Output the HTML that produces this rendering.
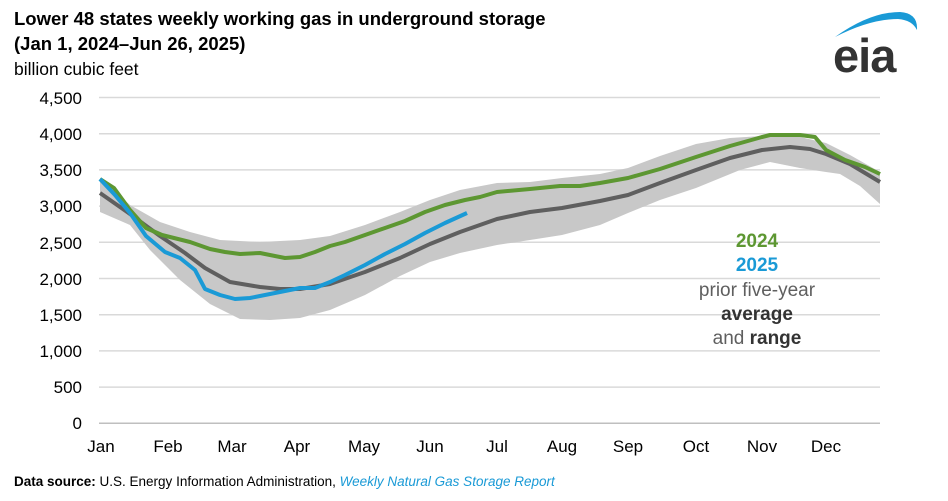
<!DOCTYPE html>
<html><head><meta charset="utf-8"><style>
body{margin:0;background:#fff;}
svg{display:block;font-family:"Liberation Sans",Arial,sans-serif;}
</style></head><body>
<svg width="948" height="501" viewBox="0 0 948 501" xmlns="http://www.w3.org/2000/svg">
<text x="14" y="25" font-size="18.5" font-weight="bold" fill="#000">Lower 48 states weekly working gas in underground storage</text>
<text x="14" y="50" font-size="18.5" font-weight="bold" fill="#000">(Jan 1, 2024–Jun 26, 2025)</text>
<text x="14" y="75" font-size="17.5" fill="#000">billion cubic feet</text>
<!-- logo -->
<path d="M835,37 Q870,12 900,12 Q918,13 917,30 Q912,20 898,19 Q870,19 835,37Z" fill="#1a9ad6"/>
<text x="833" y="72" font-size="47" font-weight="bold" fill="#333" letter-spacing="-1">eia</text>
<g stroke="#d9d9d9" stroke-width="1.5">
<line x1="99" x2="880" y1="97.5" y2="97.5"/><line x1="99" x2="880" y1="133.7" y2="133.7"/>
<line x1="99" x2="880" y1="169.9" y2="169.9"/><line x1="99" x2="880" y1="206.1" y2="206.1"/>
<line x1="99" x2="880" y1="242.3" y2="242.3"/><line x1="99" x2="880" y1="278.5" y2="278.5"/>
<line x1="99" x2="880" y1="314.7" y2="314.7"/><line x1="99" x2="880" y1="350.9" y2="350.9"/>
<line x1="99" x2="880" y1="387.1" y2="387.1"/>
</g>
<line x1="99" x2="880" y1="423.3" y2="423.3" stroke="#bfbfbf" stroke-width="1.5"/>
<g font-size="17" fill="#000" text-anchor="end">
<text x="82" y="104">4,500</text><text x="82" y="140">4,000</text><text x="82" y="176">3,500</text>
<text x="82" y="212">3,000</text><text x="82" y="249">2,500</text><text x="82" y="285">2,000</text>
<text x="82" y="321">1,500</text><text x="82" y="357">1,000</text><text x="82" y="393">500</text>
<text x="82" y="429">0</text>
</g>
<g font-size="17" fill="#000" text-anchor="middle">
<text x="101" y="452">Jan</text><text x="168" y="452">Feb</text><text x="232" y="452">Mar</text>
<text x="297" y="452">Apr</text><text x="364" y="452">May</text><text x="430" y="452">Jun</text>
<text x="497" y="452">Jul</text><text x="562" y="452">Aug</text><text x="628" y="452">Sep</text>
<text x="696" y="452">Oct</text><text x="762" y="452">Nov</text><text x="826" y="452">Dec</text>
</g>
<polygon fill="#c8c8c8" points="100,178 130,205 160,222 190,232 220,240 260,242 300,240 330,236 365,225 400,212 430,200 460,190 497,183 530,182 562,178 600,174 628,168 660,156 696,144 730,138 762,136 800,137 826,143 850,155 880,172 880,204 860,186 840,174 826,172 800,168 770,162 740,170 696,188 660,200 628,213 600,225 562,235 530,240 497,245 460,253 430,262 400,276 365,295 330,310 300,318 270,320 240,319 210,304 180,280 150,250 130,225 100,212"/>
<polyline fill="none" stroke="#5f5f5f" stroke-width="4" stroke-linejoin="round" points="100,193 130,214 160,236 185,253 205,268 230,282 260,287 280,289 300,289 330,284 365,272 400,258 430,244 460,232 497,219 530,212 562,208 600,201 628,195 660,183 696,170 730,158 762,150 790,147 810,149 826,154 850,164 880,182"/>
<polyline fill="none" stroke="#5d9732" stroke-width="4" stroke-linejoin="round" points="100,179 114,188 130,210 146,228 162,235 190,242 210,249 225,252 240,254 260,253 285,258 300,257 315,252 330,246 345,242 365,235 385,228 405,221 425,212 445,205 465,200 480,197 497,192 530,189 560,186 580,186 600,183 628,178 660,169 696,157 730,146 762,137 770,135 800,135 815,137 826,150 845,160 865,167 880,174"/>
<polyline fill="none" stroke="#1a9ad6" stroke-width="4" stroke-linejoin="round" points="100,179 115,195 130,213 146,236 165,252 180,258 195,270 205,289 220,295 235,299 250,298 265,295 280,292 300,288 315,288 330,282 345,275 365,265 385,254 405,244 425,233 445,223 467,213"/>
<g font-size="19" text-anchor="middle">
<text x="757" y="247" font-weight="bold" fill="#5d9732">2024</text>
<text x="757" y="271" font-weight="bold" fill="#1a9ad6">2025</text>
<text x="757" y="296" fill="#5f5f5f">prior five-year</text>
<text x="757" y="320" font-weight="bold" fill="#333">average</text>
<text x="757" y="344" fill="#5f5f5f">and <tspan font-weight="bold" fill="#333">range</tspan></text>
</g>
<text x="14" y="486" font-size="13.5" fill="#000"><tspan font-weight="bold">Data source:</tspan> U.S. Energy Information Administration, <tspan font-style="italic" fill="#1a9ad6">Weekly Natural Gas Storage Report</tspan></text>
</svg>
</body></html>
